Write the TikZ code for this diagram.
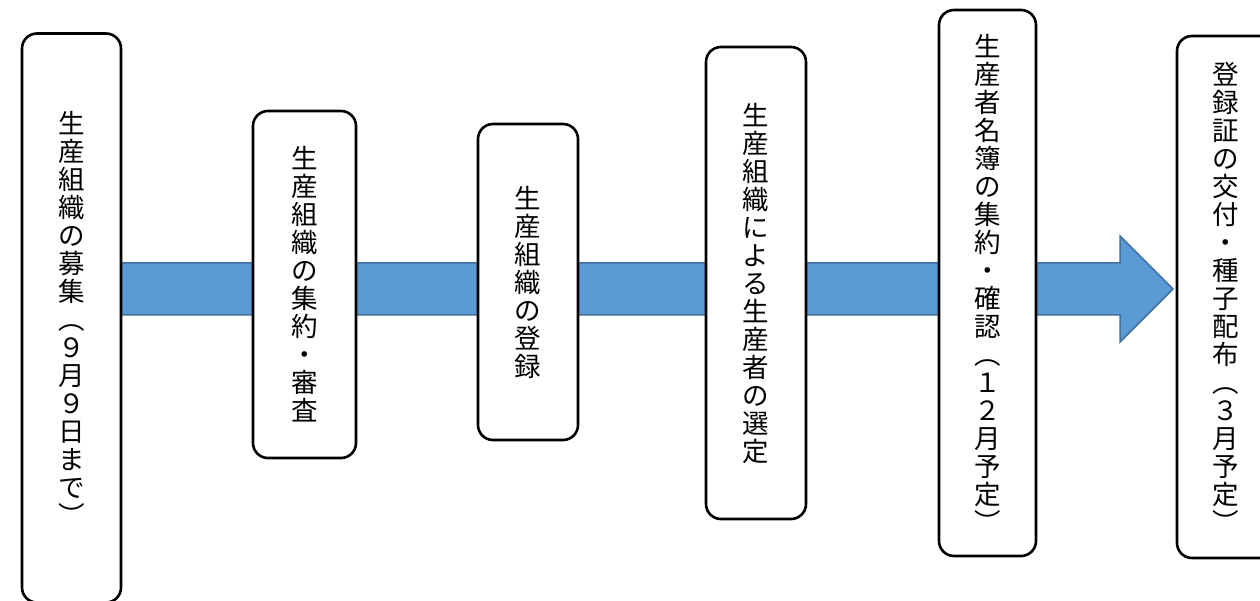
\documentclass[tikz,border=0pt]{standalone}
\usepackage{fontspec}
\newfontfamily\cjk{Noto Sans CJK JP}
\pgfdeclarelayer{background}
\pgfsetlayers{background,main}
\definecolor{arrowfill}{RGB}{91,155,213}
\definecolor{arrowline}{RGB}{65,113,156}
\tikzset{
  stepbox/.style={draw=black, line width=2.6pt, fill=white, rounded corners=15pt,
    inner sep=0pt, align=center, font=\cjk\fontsize{26.5}{28}\selectfont},
  bigarrow/.style={fill=arrowfill, draw=arrowline, line width=1.5pt, line join=miter}
}
\begin{document}
\begin{tikzpicture}[x=1pt,y=-1pt]
\useasboundingbox (0,0) rectangle (1260,601);
\begin{scope}
\clip (0,0) rectangle (1260,601);
\node[stepbox, minimum width=99pt, minimum height=569pt] (b1) at (71.5,318)
  {生\\産\\組\\織\\の\\募\\集\\︵\\９\\月\\９\\日\\ま\\で\\︶};
\node[stepbox, minimum width=103pt, minimum height=347pt] (b2) at (304.5,284.5)
  {生\\産\\組\\織\\の\\集\\約\\・\\審\\査};
\node[stepbox, minimum width=100pt, minimum height=316pt] (b3) at (528,282)
  {生\\産\\組\\織\\の\\登\\録};
\node[stepbox, minimum width=100pt, minimum height=472pt] (b4) at (756,283)
  {生\\産\\組\\織\\に\\よ\\る\\生\\産\\者\\の\\選\\定};
\node[stepbox, minimum width=97pt, minimum height=546pt] (b5) at (987.5,283)
  {生\\産\\者\\名\\簿\\の\\集\\約\\・\\確\\認\\︵\\１\\２\\月\\予\\定\\︶};
\node[stepbox, minimum width=98pt, minimum height=522pt] (b6) at (1226,297)
  {登\\録\\証\\の\\交\\付\\・\\種\\子\\配\\布\\︵\\３\\月\\予\\定\\︶};
\end{scope}
\coordinate (tip) at (1173,289);
\begin{pgfonlayer}{background}
\fill[white] (0,0) rectangle (1260,601);
\draw[bigarrow] ([xshift=-20pt]b1.east |- tip) ++(0,-26) -- (1120,263) -- (1120,236)
  -- (tip) -- (1120,342) -- (1120,315) -- ([xshift=-20pt]b1.east |- 0,315) -- cycle;
\end{pgfonlayer}
\end{tikzpicture}
\end{document}
